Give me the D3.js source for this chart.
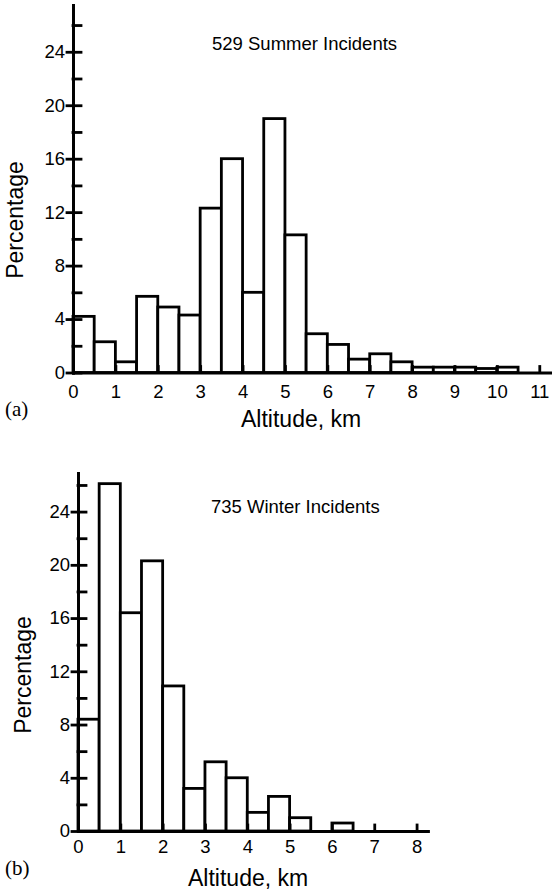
<!DOCTYPE html>
<html>
<head>
<meta charset="utf-8">
<script src="https://cdn.jsdelivr.net/npm/d3@7"></script>
<style>
  body { margin: 0; background: #fff; }
  svg { display: block; }
  text { font-family: 'Liberation Sans', Arial, Helvetica, sans-serif; fill: #000; }
</style>
</head>
<body>
<div id="chart"></div>
<script>
// percentage of incidents per 0.5 km altitude bin (left edge of each bin)
const summerBinStart = [0, 0.5, 1, 1.5, 2, 2.5, 3, 3.5, 4, 4.5, 5, 5.5, 6, 6.5, 7, 7.5, 8, 8.5, 9, 9.5, 10]
const summerPct = [4.2, 2.3, 0.8, 5.7, 4.9, 4.3, 12.3, 16.0, 6.0, 19.0, 10.3, 2.9, 2.1, 1.0, 1.4, 0.8, 0.4, 0.4, 0.4, 0.3, 0.4]

const winterBinStart = [0, 0.5, 1, 1.5, 2, 2.5, 3, 3.5, 4, 4.5, 5, 5.5, 6]
const winterPct = [8.4, 26.1, 16.4, 20.3, 10.9, 3.2, 5.2, 4.0, 1.4, 2.6, 1.0, 0, 0.6]

const binWidth = 0.5
const yMajorTicks = [0, 4, 8, 12, 16, 20, 24]
const yMinorTicks = [2, 6, 10, 14, 18, 22, 26]
const summerXTicks = [0, 1, 2, 3, 4, 5, 6, 7, 8, 9, 10, 11]
const winterXTicks = [0, 1, 2, 3, 4, 5, 6, 7, 8]

const width = 552
const height = 894

const svg = d3
  .select('#chart')
  .append('svg')
  .attr('width', width)
  .attr('height', height)

const stroke = 2.8

function drawPanel(p) {
  const g = svg.append('g')

  const x = d3.scaleLinear().domain([0, p.xMax]).range([p.left, p.right])
  const y = d3.scaleLinear().domain([0, p.yMax]).range([p.bottom, p.top])

  const bars = p.starts
    .map((s, i) => ({ start: s, pct: p.values[i] }))
    .filter(d => d.pct > 0)

  g.selectAll('.bar')
    .data(bars)
    .enter()
    .append('rect')
    .attr('class', 'bar')
    .attr('x', d => x(d.start))
    .attr('width', d => x(d.start + binWidth) - x(d.start))
    .attr('y', d => y(d.pct))
    .attr('height', d => y(0) - y(d.pct))
    .attr('fill', '#fff')
    .attr('stroke', '#000')
    .attr('stroke-width', stroke)

  // x axis, ticks pointing up
  const xAxis = g
    .append('g')
    .attr('transform', 'translate(0,' + p.bottom + ')')
    .call(
      d3.axisBottom(x)
        .tickValues(p.xTicks)
        .tickFormat(d3.format('d'))
        .tickSizeInner(-6)
        .tickSizeOuter(0)
        .tickPadding(p.xPad)
    )
  xAxis.selectAll('text').attr('y', p.xPad).attr('font-size', 18.5).attr('font-family', null)

  // minor y ticks, inside only
  g.append('g')
    .attr('transform', 'translate(' + p.left + ',0)')
    .call(d3.axisLeft(y).tickValues(yMinorTicks).tickFormat('').tickSizeInner(-8).tickSizeOuter(0))

  // major y ticks cross the axis
  const yAxis = g
    .append('g')
    .attr('transform', 'translate(' + p.left + ',0)')
    .call(d3.axisLeft(y).tickValues(yMajorTicks).tickSizeInner(6).tickSizeOuter(0).tickPadding(2))
  yAxis.selectAll('.tick line').attr('x1', 8)
  yAxis.selectAll('text').attr('font-size', 18.5).attr('font-family', null)

  g.selectAll('.domain, .tick line')
    .attr('stroke', '#000')
    .attr('stroke-width', stroke)
    .attr('stroke-linecap', 'square')

  g.append('text')
    .attr('x', p.noteX)
    .attr('y', p.noteY)
    .attr('font-size', 18.5)
    .text(p.note)

  g.append('text')
    .attr('transform', 'translate(' + p.yTitleX + ',' + p.yTitleY + ') rotate(-90)')
    .attr('text-anchor', 'middle')
    .attr('font-size', 23)
    .text('Percentage')

  g.append('text')
    .attr('x', p.xTitleX)
    .attr('y', p.xTitleY)
    .attr('font-size', 23)
    .text('Altitude, km')

  g.append('text')
    .attr('x', 5)
    .attr('y', p.tagY)
    .attr('font-size', 21)
    .style('font-family', "'Liberation Serif', 'Times New Roman', serif")
    .text(p.tag)
}

drawPanel({
  starts: summerBinStart,
  values: summerPct,
  xTicks: summerXTicks,
  xMax: 11.3,
  yMax: 27.5,
  left: 73,
  right: 552,
  top: 5,
  bottom: 372.5,
  xPad: 12,
  note: '529 Summer Incidents',
  noteX: 212,
  noteY: 50,
  yTitleX: 23,
  yTitleY: 220,
  xTitleX: 241,
  xTitleY: 427,
  tag: '(a)',
  tagY: 416
})

drawPanel({
  starts: winterBinStart,
  values: winterPct,
  xTicks: winterXTicks,
  xMax: 8.27,
  yMax: 26.9,
  left: 78,
  right: 428,
  top: 473,
  bottom: 831,
  xPad: 9,
  note: '735 Winter Incidents',
  noteX: 211,
  noteY: 513,
  yTitleX: 31,
  yTitleY: 675,
  xTitleX: 188,
  xTitleY: 886,
  tag: '(b)',
  tagY: 875
})
</script>
</body>
</html>
